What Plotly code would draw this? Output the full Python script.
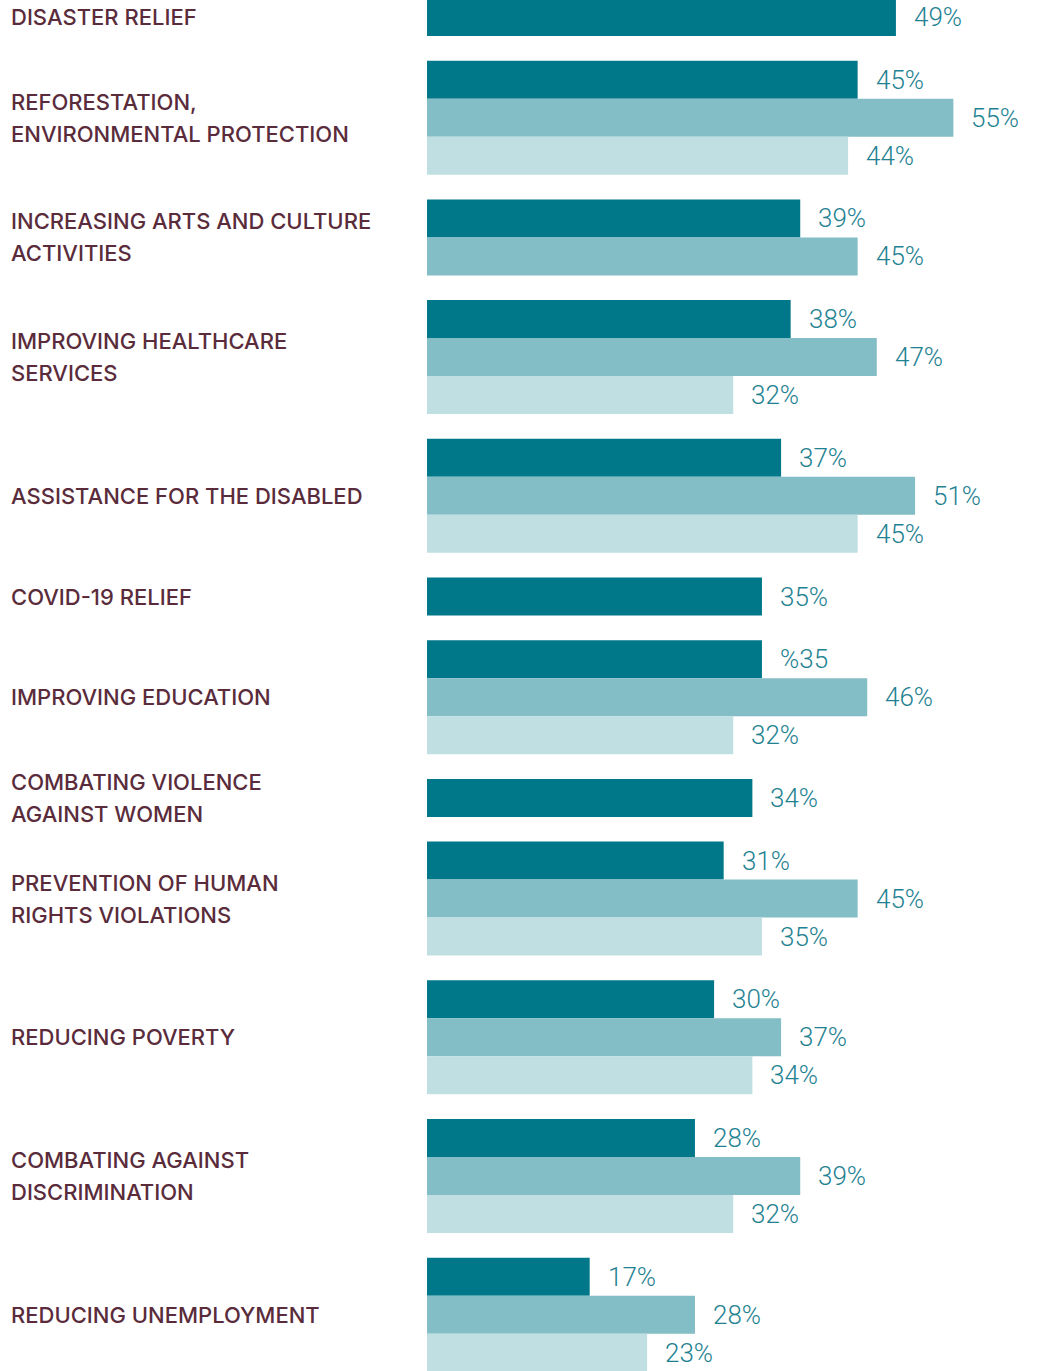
import plotly.graph_objects as go

# Survey categories (line breaks follow the printed two-line labels)
categories = [
    "DISASTER RELIEF",
    "REFORESTATION,<br>ENVIRONMENTAL PROTECTION",
    "INCREASING ARTS AND CULTURE<br>ACTIVITIES",
    "IMPROVING HEALTHCARE<br>SERVICES",
    "ASSISTANCE FOR THE DISABLED",
    "COVID-19 RELIEF",
    "IMPROVING EDUCATION",
    "COMBATING VIOLENCE<br>AGAINST WOMEN",
    "PREVENTION OF HUMAN<br>RIGHTS VIOLATIONS",
    "REDUCING POVERTY",
    "COMBATING AGAINST<br>DISCRIMINATION",
    "REDUCING UNEMPLOYMENT",
]

# Percentages per series (None = not asked in that wave)
dark_values = [49, 45, 39, 38, 37, 35, 35, 34, 31, 30, 28, 17]
mid_values = [None, 55, 45, 47, 51, None, 46, None, 45, 37, 39, 28]
light_values = [None, 44, None, 32, 45, None, 32, None, 35, 34, 32, 23]

# Printed value labels for the dark series (one is printed as "%35")
dark_text = ["49%", "45%", "39%", "38%", "37%", "35%", "%35", "34%", "31%", "30%", "28%", "17%"]

DARK = "#00788a"
MID = "#83bdc5"
LIGHT = "#c0dfe2"
VALUE_COLOR = "#1f8292"
LABEL_COLOR = "#5a2c3b"

W, H = 1041, 1371
BAR = 38.0       # bar thickness in y units (1 unit = 1 px)
GAP = 24.7       # space between category groups
TOP = -2.0
PX_PER_PCT = 9.57
X0 = 427

series = [
    ("dark", dark_values, list(dark_text), DARK),
    ("mid", mid_values, [None if v is None else f"{v}%" for v in mid_values], MID),
    ("light", light_values, [None if v is None else f"{v}%" for v in light_values], LIGHT),
]

bar_x = {name: [] for name, *_ in series}
bar_y = {name: [] for name, *_ in series}
value_annotations = []
label_annotations = []

label_font = dict(family="Inter, 'Open Sans', sans-serif", size=22, weight=500, color=LABEL_COLOR)
value_font = dict(family="Roboto, 'Liberation Sans', sans-serif", size=26, weight=300, color=VALUE_COLOR)

top = TOP
for i, cat in enumerate(categories):
    present = [(name, vals[i], texts[i]) for name, vals, texts, _ in series if vals[i] is not None]
    for k, (name, v, txt) in enumerate(present):
        yc = top + BAR / 2 + BAR * k
        bar_x[name].append(v)
        bar_y[name].append(yc)
        value_annotations.append(dict(
            x=v, y=yc, xref="x", yref="y", text=txt, showarrow=False,
            xanchor="left", yanchor="middle", xshift=16, font=value_font,
        ))
    n = len(present)
    center = top + BAR * n / 2
    lines = cat.split("<br>")
    spacing = 32
    for j, line in enumerate(lines):
        ly = center + (j - (len(lines) - 1) / 2) * spacing
        label_annotations.append(dict(
            x=9 / W, y=ly, xref="paper", yref="y", text=line, showarrow=False,
            xanchor="left", yanchor="middle", font=label_font,
        ))
    top += BAR * n + GAP

fig = go.Figure()
for name, vals, texts, color in series:
    fig.add_trace(go.Bar(
        x=bar_x[name], y=bar_y[name], orientation="h", width=BAR,
        marker=dict(color=color, line=dict(width=0)), name=name,
        hoverinfo="x", showlegend=False,
    ))

fig.update_layout(
    width=W, height=H,
    margin=dict(l=0, r=0, t=0, b=0),
    paper_bgcolor="white", plot_bgcolor="white",
    barmode="overlay",
    xaxis=dict(
        domain=[X0 / W, 1], range=[0, (W - X0) / PX_PER_PCT],
        visible=False, fixedrange=True,
    ),
    yaxis=dict(range=[H, 0], visible=False, fixedrange=True),
    annotations=label_annotations + value_annotations,
)

fig.write_html("out.html", config={"displayModeBar": False})
